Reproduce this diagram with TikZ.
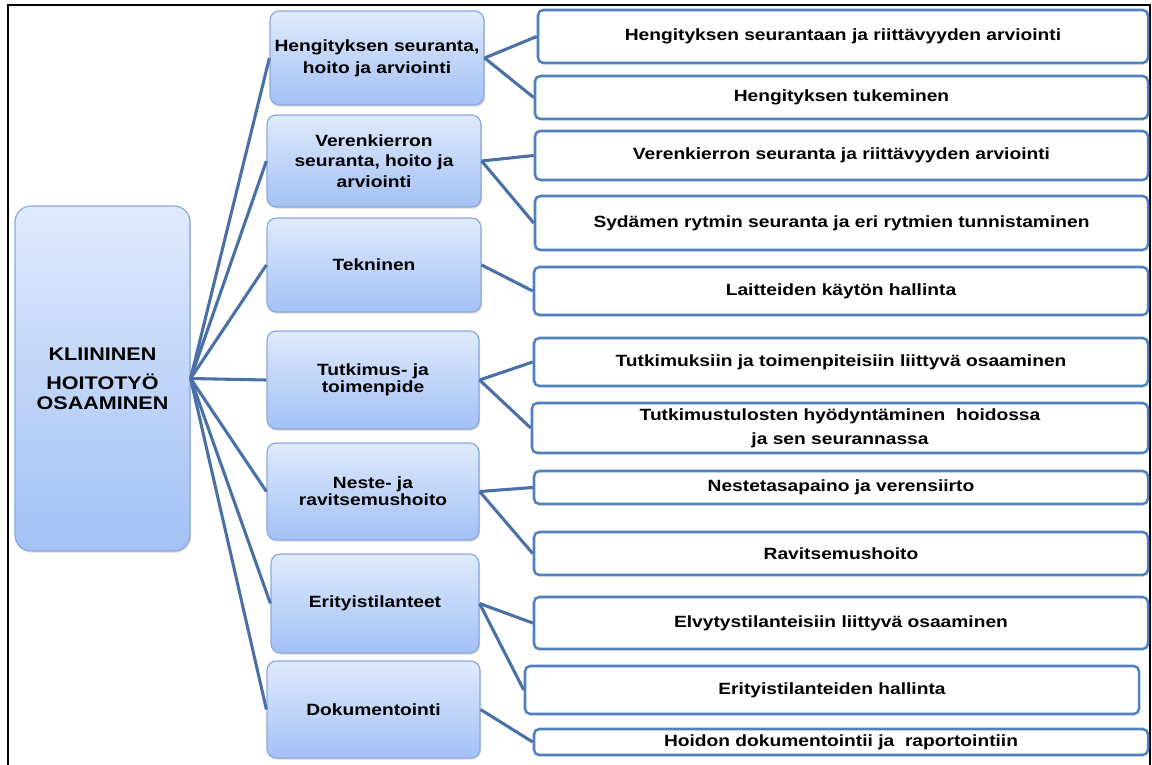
\documentclass[tikz,border=0pt]{standalone}
\usepackage{fontspec}
\newfontfamily\boxfont[FakeStretch=1.18]{Liberation Sans}
\usetikzlibrary{shadows}
\definecolor{linkblue}{HTML}{4A70A8}
\definecolor{leafblue}{HTML}{4F81BD}
\definecolor{areaedge}{HTML}{8CAADC}
\definecolor{areatop}{HTML}{DFEAFC}
\definecolor{areabot}{HTML}{A3C1F5}

\begin{document}
\begin{tikzpicture}[x=0.75pt,y=-0.75pt,
  size/.style 2 args={minimum width=#1*0.75pt, minimum height=#2*0.75pt},
  areabox/.style={draw=areaedge, line width=0.9pt, rounded corners=7pt,
    top color=areatop, bottom color=areabot, inner sep=0pt, align=center,
    drop shadow={shadow xshift=0.8pt, shadow yshift=-1.2pt, opacity=0.3},
    font=\boxfont\bfseries\fontsize{12.2}{15.5}\selectfont},
  rootbox/.style={areabox, rounded corners=12pt,
    font=\boxfont\bfseries\fontsize{13.7}{15}\selectfont},
  skillbox/.style={draw=leafblue, line width=1.9pt, rounded corners=4pt,
    fill=white, inner sep=0pt, align=center,
    font=\boxfont\bfseries\fontsize{12.2}{18}\selectfont},
  link/.style={draw=linkblue, line width=2.3pt}]
  \useasboundingbox (0,0) rectangle (1152,764);
  \fill[white] (0,0) rectangle (1152,764);

  % outer frame, open at the bottom
  \draw[line width=1.6pt] (8,775) -- (8,5) -- (1150,5) -- (1150,775);

  % main box
  \node[rootbox, size={175}{345}] (root) at (102.5,378.5) {KLIININEN\\[6.75pt] HOITOTYÖ\\ OSAAMINEN};

  % areas
  \node[areabox, size={214}{94}] (hengitys) at (377,58) {Hengityksen seuranta,\\[1pt] hoito ja arviointi};
  \node[areabox, size={214}{92}] (verenkierto) at (374,161) {Verenkierron\\ seuranta, hoito ja\\ arviointi};
  \node[areabox, size={214}{94}] (tekninen) at (374,265) {Tekninen};
  \node[areabox, size={212}{98}] (tutkimus) at (373,380) {Tutkimus- ja\\[-3pt] toimenpide};
  \node[areabox, size={212}{97}] (neste) at (373,491.5) {Neste- ja\\[-3pt] ravitsemushoito};
  \node[areabox, size={208}{99}] (erityis) at (375,603.5) {Erityistilanteet};
  \node[areabox, size={213}{97}] (dokumentointi) at (373.5,709.5) {Dokumentointi};

  % skills
  \node[skillbox, size={610}{53}] (s1) at (843,36.5) {Hengityksen seurantaan ja riittävyyden arviointi};
  \node[skillbox, size={613}{43}] (s2) at (841.5,97.5) {Hengityksen tukeminen};
  \node[skillbox, size={613}{49}] (s3) at (841.5,155.5) {Verenkierron seuranta ja riittävyyden arviointi};
  \node[skillbox, size={613}{54}] (s4) at (841.5,223) {Sydämen rytmin seuranta ja eri rytmien tunnistaminen};
  \node[skillbox, size={614}{48}] (s5) at (841,291) {Laitteiden käytön hallinta};
  \node[skillbox, size={614}{48}] (s6) at (841,362) {Tutkimuksiin ja toimenpiteisiin liittyvä osaaminen};
  \node[skillbox, size={616}{50}] (s7) at (840,428) {Tutkimustulosten hyödyntäminen\ \ hoidossa\\ ja sen seurannassa};
  \node[skillbox, size={614}{33}] (s8) at (841,487.5) {Nestetasapaino ja verensiirto};
  \node[skillbox, size={614}{43}] (s9) at (841,553.5) {Ravitsemushoito};
  \node[skillbox, size={614}{52}] (s10) at (841,623) {Elvytystilanteisiin liittyvä osaaminen};
  \node[skillbox, size={614}{48}] (s11) at (832,690) {Erityistilanteiden hallinta};
  \node[skillbox, size={614}{26}] (s12) at (841,742) {Hoidon dokumentointii ja\ \ raportointiin};

  % connectors
  \foreach \a in {hengitys,verenkierto,tekninen,tutkimus,neste,erityis,dokumentointi}
    \draw[link] (root.east) -- (\a.west);
  \foreach \a/\b in {hengitys/s1,hengitys/s2,verenkierto/s3,verenkierto/s4,tekninen/s5,
      tutkimus/s6,tutkimus/s7,neste/s8,neste/s9,erityis/s10,erityis/s11,dokumentointi/s12}
    \draw[link] (\a.east) -- (\b.west);
\end{tikzpicture}
\end{document}
